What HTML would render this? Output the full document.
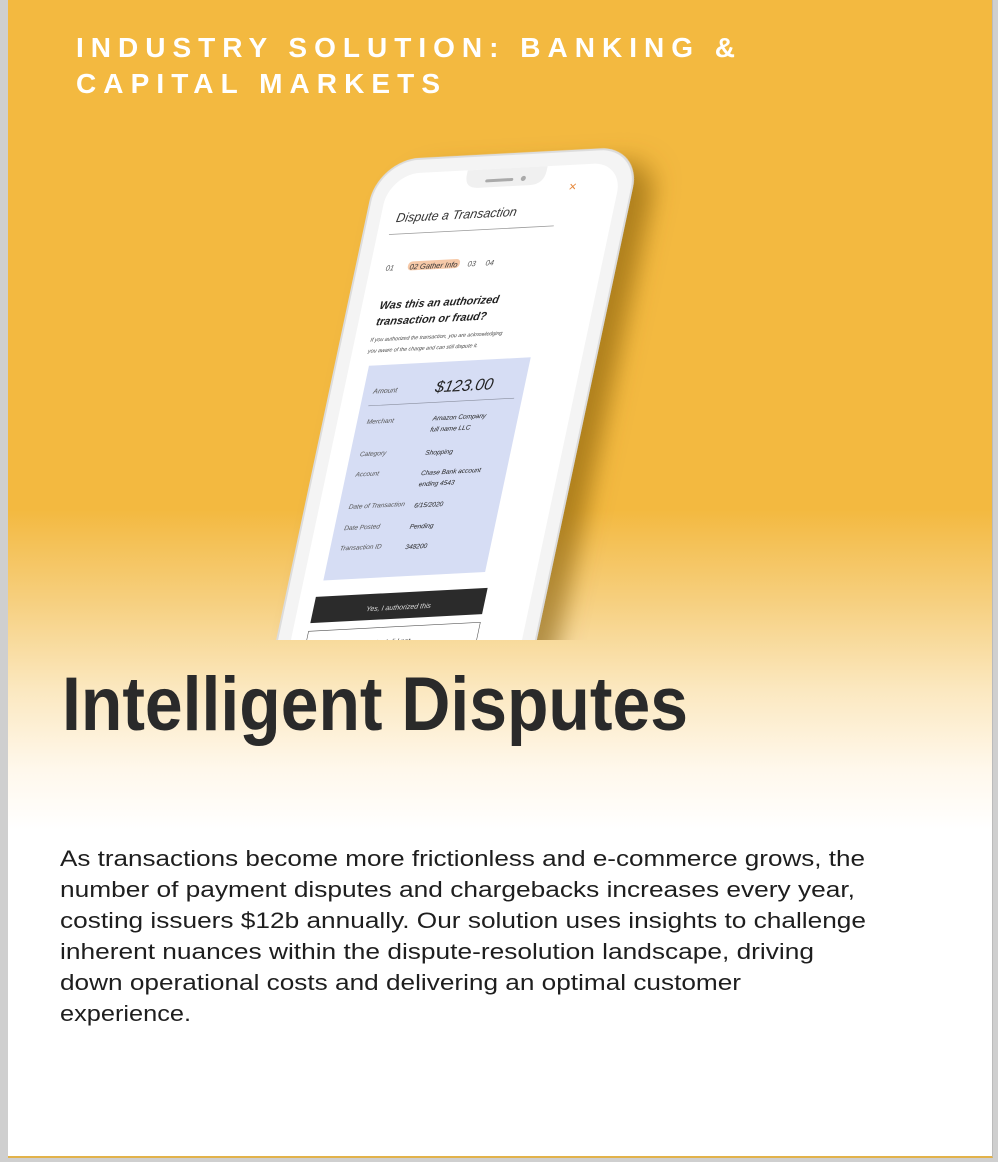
<!DOCTYPE html>
<html><head><meta charset="utf-8"><style>
html,body{margin:0;padding:0;width:998px;height:1162px;overflow:hidden;background:#cfcfcf;font-family:"Liberation Sans",sans-serif}
#panel{position:absolute;left:8px;top:0;width:984px;height:1156px;background:linear-gradient(to bottom,#f3b940 0px,#f3b940 510px,#f6cf7e 600px,#fbe8c0 690px,#fff8ec 770px,#ffffff 830px,#ffffff 100%);border-bottom:2px solid #e2b24a;border-right:1px solid #bbb}
svg{position:absolute;left:0;top:0}
</style></head><body>
<div id="panel"></div>
<svg width="998" height="1162" viewBox="0 0 998 1162">
<defs>
<filter id="sh" x="-30%" y="-20%" width="170%" height="150%"><feDropShadow dx="22" dy="14" stdDeviation="12" flood-color="#7a5200" flood-opacity="0.55"/></filter>
<clipPath id="cut"><rect x="0" y="0" width="998" height="640"/></clipPath>
</defs>
<g fill="#ffffff" font-weight="bold" font-size="28">
<text x="76" y="57" textLength="659" lengthAdjust="spacing">INDUSTRY SOLUTION: BANKING &amp;</text>
<text x="76" y="93" textLength="364" lengthAdjust="spacing">CAPITAL MARKETS</text>
</g>
<g clip-path="url(#cut)">
<g transform="translate(398,192) rotate(-3) skewX(-15)">
<rect x="-26" y="-32" width="262" height="560" rx="40" fill="#f4f4f4" stroke="#dcdcdc" stroke-width="2" filter="url(#sh)"/>
<rect x="-12" y="-18" width="234" height="540" rx="30" fill="#ffffff"/>
<path d="M66,-18 h80 v4 q0,14 -14,14 h-52 q-14,0 -14,-14z" fill="#f0f0f0"/>
<rect x="86" y="-8" width="28" height="3" rx="1.5" fill="#aaa"/>
<circle cx="124" cy="-7" r="2.5" fill="#aaa"/>
<text x="172" y="8" font-size="13" fill="#e5873a">×</text>
<text x="4" y="30" font-size="12.5" font-style="italic" fill="#333">Dispute a Transaction</text>
<line x1="0" y1="42" x2="165" y2="42" stroke="#999" stroke-width="0.8"/>
<rect x="26" y="70" width="52" height="9" rx="4" fill="#f6c9a8"/>
<g font-size="7.5" font-style="italic" fill="#555"><text x="4" y="78">01</text><text x="28" y="78" fill="#333">02 Gather Info</text><text x="86" y="78">03</text><text x="104" y="78">04</text></g>
<g font-size="11" font-style="italic" font-weight="bold" fill="#222"><text x="6" y="116">Was this an authorized</text><text x="6" y="132">transaction or fraud?</text></g>
<g font-size="5.3" font-style="italic" fill="#444"><text x="4" y="148">If you authorized the transaction, you are acknowledging</text><text x="4" y="159">you aware of the charge and can still dispute it.</text></g>
<rect x="8" y="172" width="162" height="212" fill="#d6ddf4"/>
<text x="18" y="200" font-size="7" font-style="italic" fill="#555">Amount</text>
<text x="80" y="202" font-size="16" font-style="italic" fill="#222">$123.00</text>
<line x1="16" y1="212" x2="162" y2="212" stroke="#8a8f9f" stroke-width="0.6"/>
<g font-size="6.5" font-style="italic" fill="#555">
<text x="18" y="230">Merchant</text><text x="18" y="262">Category</text><text x="18" y="282">Account</text><text x="18" y="314">Date of Transaction</text><text x="18" y="335">Date Posted</text><text x="18" y="355">Transaction ID</text></g>
<g font-size="6.5" font-style="italic" fill="#222">
<text x="84" y="230">Amazon Company</text><text x="84" y="241">full name LLC</text><text x="84" y="264">Shopping</text><text x="84" y="284">Chase Bank account</text><text x="84" y="295">ending 4543</text><text x="84" y="316">6/15/2020</text><text x="84" y="337">Pending</text><text x="84" y="357">348200</text></g>
<rect x="4" y="400" width="172" height="26" fill="#2b2b2b"/>
<text x="90" y="417" font-size="7" font-style="italic" fill="#ddd" text-anchor="middle">Yes, I authorized this</text>
<rect x="4" y="434" width="172" height="26" fill="#fff" stroke="#555" stroke-width="0.6"/>
<text x="90" y="451" font-size="7" font-style="italic" fill="#333" text-anchor="middle">No, I did not</text>
</g>
</g>
<text x="62" y="730" font-size="76" font-weight="bold" fill="#2a2a2a" textLength="626" lengthAdjust="spacingAndGlyphs">Intelligent Disputes</text>
<g font-size="22" fill="#1e1e1e">
<text x="60" y="866" textLength="805" lengthAdjust="spacingAndGlyphs">As transactions become more frictionless and e-commerce grows, the</text>
<text x="60" y="897" textLength="795" lengthAdjust="spacingAndGlyphs">number of payment disputes and chargebacks increases every year,</text>
<text x="60" y="928" textLength="806" lengthAdjust="spacingAndGlyphs">costing issuers $12b annually. Our solution uses insights to challenge</text>
<text x="60" y="959" textLength="754" lengthAdjust="spacingAndGlyphs">inherent nuances within the dispute-resolution landscape, driving</text>
<text x="60" y="990" textLength="681" lengthAdjust="spacingAndGlyphs">down operational costs and delivering an optimal customer</text>
<text x="60" y="1021" textLength="131" lengthAdjust="spacingAndGlyphs">experience.</text>
</g>
</svg>
</body></html>
